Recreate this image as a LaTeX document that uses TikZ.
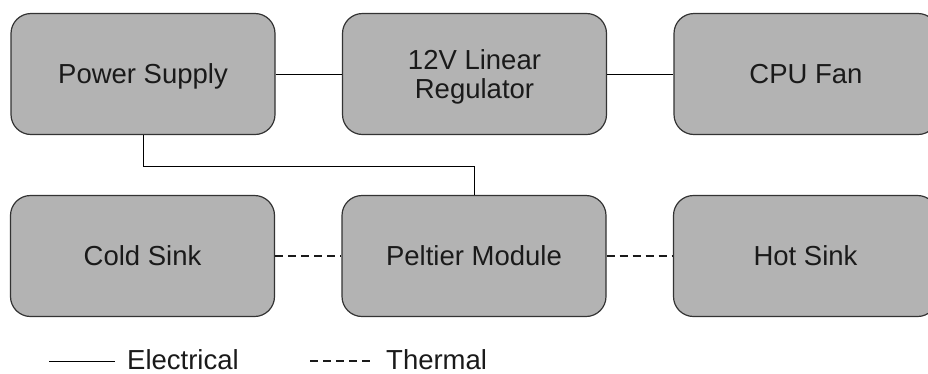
\documentclass[tikz,border=0pt]{standalone}
\usepackage{fontspec}
\setmainfont{Liberation Sans}
\usepackage{xcolor}
\definecolor{blockgray}{RGB}{179,179,179}
\definecolor{rim}{RGB}{51,51,51}
\definecolor{ink}{RGB}{26,26,26}
\usetikzlibrary{positioning}
\tikzset{block/.style={draw=rim, fill=blockgray, line width=1.2pt, rounded corners=20pt,
		minimum width=264pt, minimum height=121pt, inner sep=0pt, text=ink, align=center,
		font=\fontsize{27.5}{29}\selectfont, text height=19pt, text depth=0pt},
	wire/.style={draw=black, line width=1pt},
	heat/.style={draw=ink, line width=1.6pt, dash pattern=on 8pt off 5pt},
	legendtext/.style={text=ink, inner sep=0pt, font=\fontsize{27.5}{29}\selectfont}}

\begin{document}
\begin{tikzpicture}[x=1pt, y=-1pt]
	\useasboundingbox (0,0) rectangle (928,373);

	% top row
	\node[block] (supply) at (143,74) {Power Supply};
	\node[block, text height=, text depth=] (regulator) at (474.5,74) {\rule{0pt}{26pt}12V Linear\\Regulator};
	\node[block] (fan) at (806,74) {CPU Fan};

	% bottom row
	\node[block] (cold) at (142.5,256) {Cold Sink};
	\node[block] (peltier) at (474,256) {Peltier Module};
	\node[block] (hot) at (805.5,256) {Hot Sink};

	% Electrical
	\draw[wire] (supply.east) -- (regulator.west);
	\draw[wire] (regulator.east) -- (fan.west);
	\draw[wire] (supply.south) -- ++(0,31) -| (peltier.north);

	% Thermal
	\draw[heat] (cold.east) -- (peltier.west);
	\draw[heat] (peltier.east) -- (hot.west);

	% legend
	\coordinate (elecA) at (49,361);
	\coordinate (elecB) at (115,361);
	\draw[wire] (elecA) -- (elecB);
	\node[legendtext, anchor=base west] (elec) at (127,369) {Electrical};
	\coordinate (thermA) at (310,361);
	\coordinate (thermB) at (372,361);
	\draw[heat] (thermA) -- (thermB);
	\node[legendtext, anchor=base west] (therm) at (386,369) {Thermal};
\end{tikzpicture}
\end{document}
